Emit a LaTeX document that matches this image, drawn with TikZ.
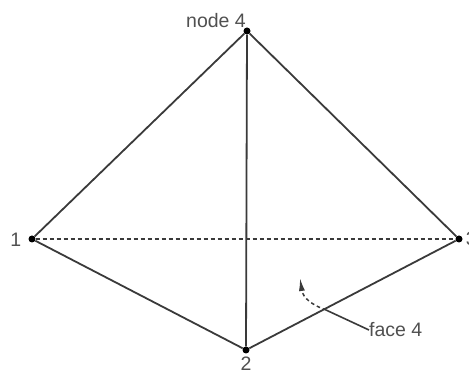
\documentclass[tikz,border=0pt]{standalone}
\usepackage{fontspec}
\setmainfont{Liberation Sans}
\usepackage{xcolor}
\usetikzlibrary{arrows.meta,positioning}
\definecolor{ink}{HTML}{3A3A3A}
\definecolor{labelgray}{HTML}{505050}
\tikzset{
  >=Latex,
  every node/.style={font=\fontsize{19.5}{21}\selectfont,text=labelgray,inner sep=0pt},
  vertex/.style={circle,fill=black,minimum size=7pt,inner sep=0pt},
  edge/.style={draw=ink,line width=1.8pt},
  hidden/.style={draw=ink,line width=1.2pt,dash pattern=on 4.5pt off 2.5pt},
  leader/.style={draw=ink,line width=1.6pt},
  pointer/.style={-{Latex[length=13pt,width=6pt]},draw=ink,line width=1.5pt,dash pattern=on 3.5pt off 3pt}
}
\begin{document}
\begin{tikzpicture}[x=1pt,y=-1pt,node distance=6pt and 8pt]
  \useasboundingbox (0,0) rectangle (469,371);
  \node[vertex] (one) at (32,239) {};
  \node[vertex] (two) at (246,350) {};
  \node[vertex] (three) at (459,239) {};
  \node[vertex] (four) at (247,31) {};

  \node[left=7pt of one,yshift=-1pt] (labelone) {1};
  \node[below=3pt of two] (labeltwo) {2};
  \node[right=3pt of three] (labelthree) {3};
  \node[anchor=south east] (labelfour) at (246,28) {node 4};
  \node[anchor=west] (labelface) at (369,330) {face 4};

  \coordinate (cross) at (326,310);
  \coordinate (tip) at (300,278);

  \draw[edge] (one)--(four);
  \draw[edge] (four)--(three);
  \draw[edge] (one)--(two);
  \draw[edge] (two)--(three);
  \draw[edge] (four)--(two);
  \draw[hidden] (one)--(three);
  \draw[leader] (labelface.west)--(cross);
  \draw[pointer] (cross) .. controls (312,305) and (303,298) .. (tip);
\end{tikzpicture}
\end{document}
